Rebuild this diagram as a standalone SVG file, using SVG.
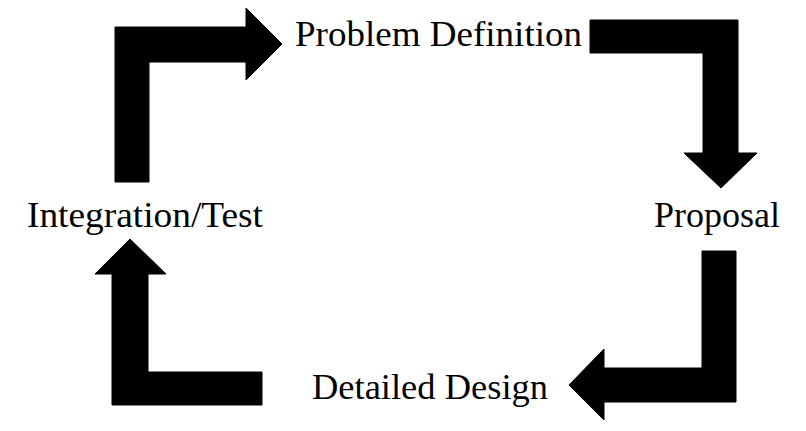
<svg xmlns="http://www.w3.org/2000/svg" width="806" height="431" viewBox="0 0 806 431">
<style>
.lbl{font-family:"Liberation Serif","Times New Roman",serif;font-size:36px;fill:#000}
.arr{fill:#000;stroke:#000;stroke-width:1;stroke-linejoin:round}
</style>
<rect width="806" height="431" fill="#fff"/>
<g id="connectors">
<path class="arr" d="M115,182 L115,27 L246,27 L246,8 L282,44 L246,80 L246,62 L149,62 L149,182 Z"/>
<path class="arr" d="M590,20 L738,20 L738,153 L757,153 L721,188 L684,153 L703,153 L703,53 L590,53 Z"/>
<path class="arr" d="M702,251 L736,251 L736,402 L604,402 L604,420 L569,385 L604,349 L604,368 L702,368 Z"/>
<path class="arr" d="M112,405 L112,274 L95,274 L130,239 L166,274 L148,274 L148,372 L262,372 L262,405 Z"/>
</g>
<g id="problem-definition"><text class="lbl" x="295" y="46" textLength="287" lengthAdjust="spacingAndGlyphs">Problem Definition</text></g>
<g id="proposal"><text class="lbl" x="654" y="227" textLength="126" lengthAdjust="spacingAndGlyphs">Proposal</text></g>
<g id="detailed-design"><text class="lbl" x="312" y="399" textLength="236" lengthAdjust="spacingAndGlyphs">Detailed Design</text></g>
<g id="integration-test"><text class="lbl" x="27" y="227" textLength="236" lengthAdjust="spacingAndGlyphs">Integration/Test</text></g>
</svg>
